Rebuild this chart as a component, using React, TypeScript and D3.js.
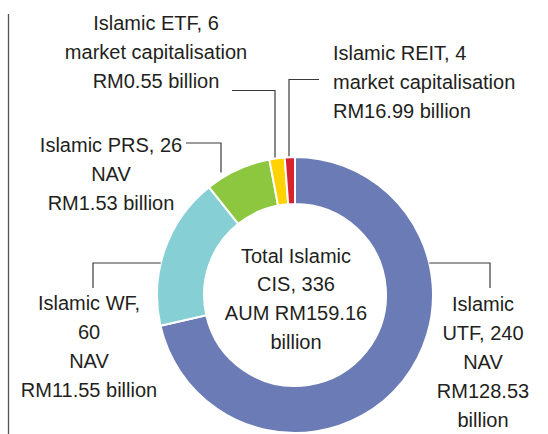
import React from "react";
import * as d3 from "d3";

const categories = ["Islamic UTF", "Islamic WF", "Islamic PRS", "Islamic ETF", "Islamic REIT"];
const counts = [240, 60, 26, 6, 4];
const colors = ["#6a7bb6", "#86d0d5", "#8dc63f", "#ffd200", "#d8232f"];
const labelLines = [
  ["Islamic", "UTF, 240", "NAV", "RM128.53", "billion"],
  ["Islamic WF,", "60", "NAV", "RM11.55 billion"],
  ["Islamic PRS, 26", "NAV", "RM1.53 billion"],
  ["Islamic ETF, 6", "market capitalisation", "RM0.55 billion"],
  ["Islamic REIT, 4", "market capitalisation", "RM16.99 billion"],
];
const centerLines = ["Total Islamic", "CIS, 336", "AUM RM159.16", "billion"];

const W = 548;
const H = 434;
const cx = 295;
const cy = 295;
const rOuter = 138;
const rInner = 91;
const lineH = 29;
const FONT = "'Liberation Sans', Arial, sans-serif";
const FS = 20;
const TXT = "#231f20";
const LEAD = "#3a3a3a";

// label layout: anchor, x, first baseline
const labelLayout = [
  { anchor: "middle", x: 483, y: 311 },
  { anchor: "middle", x: 89, y: 310 },
  { anchor: "middle", x: 111, y: 152 },
  { anchor: "middle", x: 156, y: 30 },
  { anchor: "start", x: 333, y: 59.5 },
];

function arcY(x: number) {
  const dx = x - cx;
  return cy - Math.sqrt(rOuter * rOuter - dx * dx);
}
function arcX(y: number, side: number) {
  const dy = y - cy;
  return cx + side * Math.sqrt(rOuter * rOuter - dy * dy);
}

export default function App() {
  const pie = d3.pie<number>().sort(null).value((d) => d).startAngle(0).endAngle(2 * Math.PI);
  const arcs = pie(counts);
  const arcGen = d3.arc<d3.PieArcDatum<number>>().innerRadius(rInner).outerRadius(rOuter);

  // leader paths
  const leaders = [
    // UTF
    `M${arcX(263, 1)},263 H490 V288`,
    // WF
    `M${arcX(263, -1)},263 H93 V288`,
    // PRS
    `M186,143 H221 V${arcY(221) - 6}`,
    // ETF
    `M232,90.5 H275 V${arcY(275) - 1}`,
    // REIT
    `M319,79.5 H289 V${arcY(289) - 1}`,
  ];

  return (
    <svg
      width={W}
      height={H}
      style={{ position: "absolute", left: 0, top: 0, background: "#fff" }}
      fontFamily={FONT}
    >
      <line x1={8.5} y1={14} x2={8.5} y2={H} stroke="#555" strokeWidth={1.3} />
      <g transform={`translate(${cx},${cy})`}>
        {arcs.map((a, i) => (
          <path key={categories[i]} d={arcGen(a) || ""} fill={colors[i]} stroke="#fff" strokeWidth={2} />
        ))}
      </g>
      {leaders.map((d, i) => (
        <path key={"l" + i} d={d} fill="none" stroke={LEAD} strokeWidth={1.2} />
      ))}
      {labelLines.map((lines, i) => (
        <text
          key={"t" + i}
          x={labelLayout[i].x}
          y={labelLayout[i].y}
          textAnchor={labelLayout[i].anchor}
          fontSize={FS}
          fill={TXT}
        >
          {lines.map((s, j) => (
            <tspan key={j} x={labelLayout[i].x} y={labelLayout[i].y + j * lineH}>
              {s}
            </tspan>
          ))}
        </text>
      ))}
      <text textAnchor="middle" fontSize={FS} fill={TXT}>
        {centerLines.map((s, j) => (
          <tspan key={j} x={296} y={262.5 + j * 28.7}>
            {s}
          </tspan>
        ))}
      </text>
    </svg>
  );
}
